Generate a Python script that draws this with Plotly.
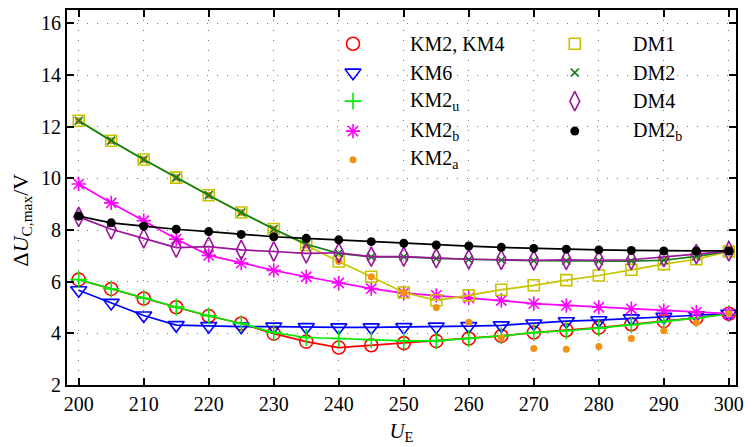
import plotly.graph_objects as go

# Emitter voltage U_E (V)
U_E = [200, 205, 210, 215, 220, 225, 230, 235, 240, 245, 250,
       255, 260, 265, 270, 275, 280, 285, 290, 295, 300]

# Maximum capacitor voltage ripple ΔU_C,max (V) per modulation scheme
km2_km4 = [6.08, 5.72, 5.35, 5.01, 4.67, 4.38, 3.99, 3.68, 3.45, 3.54, 3.62,
           3.70, 3.80, 3.90, 4.03, 4.12, 4.22, 4.35, 4.47, 4.60, 4.76]
km6 = [5.67, 5.18, 4.69, 4.32, 4.28, 4.26, 4.26, 4.24, 4.23, 4.23, 4.24,
       4.26, 4.28, 4.31, 4.38, 4.47, 4.51, 4.58, 4.64, 4.70, 4.76]
km2_u = [6.08, 5.72, 5.36, 5.02, 4.68, 4.38, 4.03, 3.84, 3.80, 3.75, 3.71,
         3.71, 3.80, 3.90, 4.03, 4.10, 4.20, 4.33, 4.46, 4.59, 4.76]
km2_b = [9.78, 9.05, 8.36, 7.65, 7.02, 6.72, 6.44, 6.19, 5.95, 5.73, 5.56,
         5.47, 5.37, 5.27, 5.15, 5.08, 5.01, 4.95, 4.88, 4.82, 4.76]
km2_a = [12.23, 11.46, 10.73, 10.03, 9.35, 8.68, 8.04, 7.42, 6.78, 6.19, 5.58,
         5.00, 4.43, 3.83, 3.41, 3.38, 3.49, 3.80, 4.10, 4.41, 4.77]
dm1 = [12.23, 11.46, 10.73, 10.03, 9.35, 8.68, 8.04, 7.42, 6.78, 6.19, 5.58,
       5.28, 5.47, 5.69, 5.86, 6.06, 6.24, 6.46, 6.68, 6.87, 7.17]
dm2 = [12.23, 11.46, 10.73, 10.03, 9.35, 8.68, 8.04, 7.45, 7.10, 6.96, 6.96,
       6.90, 6.86, 6.84, 6.81, 6.81, 6.80, 6.80, 6.83, 6.98, 7.18]
dm4 = [8.51, 8.03, 7.68, 7.32, 7.36, 7.23, 7.17, 7.10, 7.12, 6.97, 6.97,
       6.91, 6.87, 6.85, 6.83, 6.85, 6.83, 6.85, 6.95, 7.07, 7.18]
dm2_b = [8.54, 8.28, 8.15, 8.03, 7.94, 7.83, 7.74, 7.68, 7.62, 7.55, 7.49,
         7.42, 7.38, 7.33, 7.29, 7.26, 7.23, 7.21, 7.19, 7.19, 7.19]

x_ticks = [200, 210, 220, 230, 240, 250, 260, 270, 280, 290, 300]
y_ticks = [2, 4, 6, 8, 10, 12, 14, 16]

FONT = "Liberation Serif"
LW = 1.7

# name, values, color, symbol, size, draw line, legend column, legend row
series = [
    ("KM2, KM4", km2_km4, "#ff0000", "circle-open", 13, True, 0, 0),
    ("KM6", km6, "#0000ff", "triangle-down-open", 14, True, 0, 1),
    ("KM2<sub>u</sub>", km2_u, "#00ee00", "cross-thin-open", 12, True, 0, 2),
    ("KM2<sub>b</sub>", km2_b, "#ff00ff", "asterisk-open", 12, True, 0, 3),
    ("DM1", dm1, "#c8c400", "square-open", 11, True, 1, 0),
    ("KM2<sub>a</sub>", km2_a, "#f39113", "circle", 7, False, 0, 4),
    ("DM2", dm2, "#10801a", "x-thin-open", 8, True, 1, 1),
    ("DM4", dm4, "#9b169b", "diamond-tall-open", 14, True, 1, 2),
    ("DM2<sub>b</sub>", dm2_b, "#000000", "circle", 9, True, 1, 3),
]

fig = go.Figure()
for name, vals, color, sym, size, line, col, row in series:
    mline = dict(color=color, width=1.6 if sym.endswith("open") else 0)
    fig.add_trace(go.Scatter(
        x=U_E, y=vals, name=name, showlegend=False,
        mode="lines+markers" if line else "markers",
        line=dict(color=color, width=LW),
        marker=dict(symbol=sym, size=size, color=color, line=mline),
    ))

# Two-column key drawn on an overlay axis spanning the plot area
leg_sym_x = [0.4275, 0.759]
leg_txt_x = [0.510, 0.843]
leg_row_y = [0.910, 0.833, 0.757, 0.677, 0.601]
for name, vals, color, sym, size, line, col, row in series:
    mline = dict(color=color, width=1.6 if sym.endswith("open") else 0)
    fig.add_trace(go.Scatter(
        x=[leg_sym_x[col]], y=[leg_row_y[row]], xaxis="x2", yaxis="y2",
        mode="markers", showlegend=False, hoverinfo="skip",
        marker=dict(symbol=sym, size=size, color=color, line=mline),
    ))
    fig.add_annotation(
        x=leg_txt_x[col], y=leg_row_y[row], xref="x2", yref="y2",
        text=name, showarrow=False, xanchor="left", yanchor="middle",
        font=dict(family=FONT, size=20, color="black"),
    )

# Rotated y-axis label
fig.add_annotation(
    x=-0.068, y=0.44, xref="paper", yref="paper", textangle=-90,
    text="Δ<i>U</i><sub>C,max</sub>/V", showarrow=False,
    xanchor="center", yanchor="middle",
    font=dict(family=FONT, size=22, color="black"),
)

axis_common = dict(
    showline=True, linecolor="black", linewidth=2, mirror="ticks",
    ticks="inside", ticklen=7, tickwidth=1.5, tickcolor="black",
    showgrid=True, gridcolor="#7a7a7a", gridwidth=1, griddash="1px,9px",
    zeroline=False, tickfont=dict(family=FONT, size=20, color="black"),
)

fig.update_layout(
    width=752, height=447,
    margin=dict(l=67, r=9, t=8, b=61),
    paper_bgcolor="white", plot_bgcolor="white",
    font=dict(family=FONT, size=20, color="black"),
    xaxis=dict(range=[198.2, 301.1], tickvals=x_ticks,
               title=dict(text="<i>U</i><sub>E</sub>", standoff=9,
                          font=dict(family=FONT, size=21)),
               **axis_common),
    yaxis=dict(range=[2, 16.52], tickvals=y_ticks, **axis_common),
    xaxis2=dict(overlaying="x", range=[0, 1], visible=False, fixedrange=True),
    yaxis2=dict(overlaying="y", range=[0, 1], visible=False, fixedrange=True),
    showlegend=False,
)

fig.write_html("out.html")
